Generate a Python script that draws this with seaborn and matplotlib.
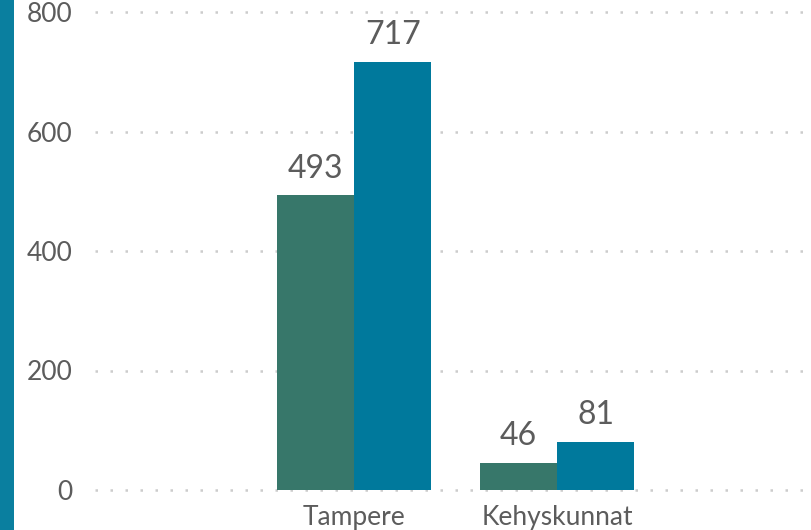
import matplotlib
matplotlib.use("Agg")
import matplotlib.pyplot as plt
import seaborn as sns
import pandas as pd
from matplotlib.patches import Rectangle

categories = ["Tampere", "Kehyskunnat"]
series_names = ["Sarja 1", "Sarja 2"]
series_1 = [493, 46]
series_2 = [717, 81]
yticks = [0, 200, 400, 600, 800]

df = pd.DataFrame({
    "alue": categories * 2,
    "sarja": [series_names[0]] * len(categories) + [series_names[1]] * len(categories),
    "arvo": series_1 + series_2,
})

sns.set_theme(style="white")
plt.rcParams["font.family"] = ["Lato", "DejaVu Sans"]
text_color = "#5c5c5c"

fig = plt.figure(figsize=(8.11, 5.30), dpi=100)
ax = fig.add_axes([95 / 811, 1 - 490 / 530, 1 - 95 / 811, (490 - 12) / 530])

sns.barplot(data=df, x="alue", y="arvo", hue="sarja", order=categories,
            hue_order=series_names, palette=["#37776a", "#00799c"],
            width=0.76, gap=0, saturation=1, legend=False, linewidth=0,
            edgecolor="none", ax=ax)

for c in ax.containers:
    ax.bar_label(c, padding=8, fontsize=23, color=text_color)

ax.set_ylim(0, 800)
ax.set_xlim(-1.276, 2.25)
ax.set_yticks(yticks)
ax.set_yticklabels([str(v) for v in yticks])
ax.set_xlabel("")
ax.set_ylabel("")
for s in ax.spines.values():
    s.set_visible(False)
ax.tick_params(axis="y", length=0, pad=16, labelsize=19, labelcolor=text_color)
ax.tick_params(axis="x", length=0, pad=11, labelsize=19, labelcolor=text_color)
ax.yaxis.grid(True, color="#cccccc", linestyle=(0, (1, 5)), linewidth=1.8)
ax.set_axisbelow(True)
for gl in ax.get_ygridlines():
    gl.set_clip_on(False)

fig.patches.append(Rectangle((0, 0), 14 / 811, 1, transform=fig.transFigure,
                             facecolor="#0a7f9f", edgecolor="none", zorder=0))

fig.savefig("out.png", dpi=100)
